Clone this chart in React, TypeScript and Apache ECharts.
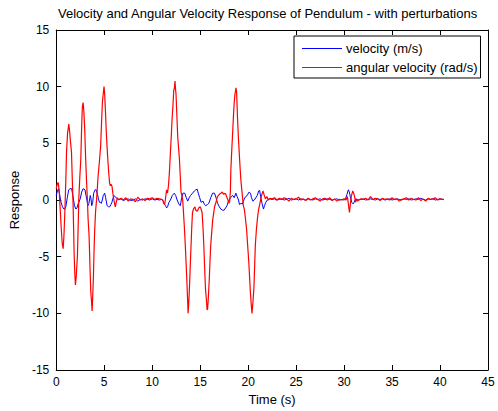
import React, { useEffect, useRef } from "react";
import * as echarts from "echarts";

const chartTitle = "Velocity and Angular Velocity Response of Pendulum - with perturbations";
const xTicks = [0, 5, 10, 15, 20, 25, 30, 35, 40, 45];
const yTicks = [-15, -10, -5, 0, 5, 10, 15];

// [time (s), velocity (m/s)]
const velocity: [number, number][] = [
  [0, 0.4], [0.12, 0.8], [0.24, 1.0], [0.35, 0.5], [0.5, -0.2], [0.65, -0.6], [0.8, -0.8], [0.9, -0.8], [1.0, -0.6],
  [1.15, 0.2], [1.3, 0.9], [1.45, 1.0], [1.6, 1.0], [1.75, 0.3], [1.9, -0.5], [2.05, -0.8], [2.16, -0.7], [2.3, -0.3],
  [2.5, 0.1], [2.65, 0.7], [2.8, 1.0], [3.0, 0.9], [3.1, 0.4], [3.2, 0.0], [3.3, -0.5], [3.4, -0.3], [3.55, 0.4],
  [3.62, 0.1], [3.7, -0.5], [3.8, -0.2], [3.9, 0.6], [4.05, 0.9], [4.16, 0.9], [4.3, 0.5], [4.4, 0.1], [4.5, -0.2],
  [4.6, -0.2], [4.7, -0.3], [4.8, 0.0], [4.9, 0.4], [5.05, 0.6], [5.15, 0.2], [5.3, -0.5], [5.45, -0.6], [5.57, -0.6],
  [5.7, -0.4], [5.8, -0.2], [5.9, 0.1], [6.0, 0.4], [6.12, 0.3], [6.25, 0.2], [6.4, 0.1],
  [6.5, 0.0], [6.75, 0.1], [7.0, -0.05], [7.25, 0.05], [7.5, 0.1], [7.75, -0.05], [8.0, 0.0], [8.25, 0.1], [8.5, -0.1],
  [8.75, 0.05], [9.0, 0.0], [9.25, 0.1], [9.5, 0.05], [9.75, 0.0], [10.0, 0.1], [10.25, 0.0], [10.5, 0.05], [10.75, 0.0],
  [11.0, 0.05], [11.15, -0.1], [11.3, -0.4], [11.4, -0.5], [11.5, -0.7], [11.6, -0.6], [11.75, -0.2], [11.9, 0.0],
  [12.1, 0.4], [12.3, 0.6], [12.45, 0.4], [12.6, 0.0], [12.8, -0.4], [12.94, -0.5], [13.05, 0.1], [13.2, 0.6], [13.4, 0.6],
  [13.55, 0.2], [13.7, -0.1], [13.85, 0.2], [14.0, 0.4], [14.2, 0.6], [14.4, 0.8], [14.55, 0.9], [14.7, 0.95], [14.8, 0.6],
  [14.95, 0.2], [15.1, -0.2], [15.3, -0.1], [15.45, -0.4], [15.6, -0.5], [15.75, -0.4], [15.9, -0.3], [16.1, 0.2],
  [16.3, 0.6], [16.5, 0.6], [16.65, 0.2], [16.82, -0.3], [17.0, -0.6], [17.15, -0.8], [17.34, -0.9], [17.5, -0.9],
  [17.65, -0.7], [17.8, -0.5], [17.95, -0.1], [18.1, 0.1], [18.25, 0.3], [18.4, 0.4], [18.55, 0.2], [18.72, 0.6],
  [18.85, 0.3], [19.0, 0.0], [19.1, -0.4], [19.25, -0.3], [19.4, -0.35], [19.6, 0.1], [19.75, 0.3], [19.9, 0.4],
  [20.1, 0.7], [20.25, 0.6], [20.35, 0.2], [20.5, -0.1], [20.65, 0.0], [20.8, 0.2], [20.95, 0.4], [21.1, 0.8],
  [21.2, 0.85], [21.3, 0.3], [21.45, -0.3], [21.6, -0.8], [21.7, -0.5], [21.85, -0.2], [22.0, 0.0], [22.1, 0.05],
  [22.25, 0.1], [22.5, 0.05], [22.75, 0.1], [23.0, 0.0], [23.25, 0.05], [23.5, 0.1], [23.75, 0.0], [24.0, 0.05],
  [24.25, 0.15], [24.5, 0.0], [24.75, 0.05], [25.0, 0.1], [25.25, 0.0], [25.5, 0.1], [25.75, 0.05], [26.0, 0.0],
  [26.25, 0.1], [26.5, 0.05], [26.75, 0.0], [27.0, 0.1], [27.25, 0.05], [27.5, 0.1], [27.75, 0.0], [28.0, 0.05],
  [28.25, 0.1], [28.5, 0.05], [28.75, 0.0], [29.0, 0.05], [29.25, 0.1], [29.5, 0.0], [29.75, 0.05], [30.0, 0.0],
  [30.15, 0.1], [30.3, 0.5], [30.45, 0.9], [30.55, 0.7], [30.65, 0.3], [30.8, -0.2], [30.95, -0.35], [31.05, -0.2],
  [31.2, 0.1], [31.35, 0.05], [31.5, 0.0], [31.75, 0.05], [32.0, 0.1], [32.25, 0.0], [32.5, 0.05], [32.75, 0.1],
  [33.0, 0.05], [33.25, 0.0], [33.5, 0.1], [33.75, 0.05], [34.0, 0.1], [34.25, 0.0], [34.5, 0.05], [34.75, 0.1],
  [35.0, 0.0], [35.25, 0.05], [35.5, 0.1], [35.75, 0.05], [36.0, 0.0], [36.25, 0.1], [36.5, 0.05], [36.75, 0.1],
  [37.0, 0.0], [37.25, 0.05], [37.5, 0.1], [37.75, 0.05], [38.0, 0.15], [38.25, 0.05], [38.5, 0.0], [38.75, 0.1],
  [39.0, 0.05], [39.25, 0.1], [39.5, 0.0], [39.75, 0.05], [40.0, 0.1], [40.25, 0.05], [40.4, 0.05],
];

// [time (s), angular velocity (rad/s)]
const angularVelocity: [number, number][] = [
  [0, 1.0], [0.1, 1.4], [0.2, 1.55], [0.3, 0.9], [0.4, -0.6], [0.52, -2.5], [0.62, -3.8], [0.72, -4.3], [0.8, -3.2],
  [0.9, -1.0], [1.0, 1.8], [1.07, 4.2], [1.18, 5.9], [1.31, 6.7], [1.4, 6.0], [1.5, 5.0], [1.59, 4.2], [1.68, 1.6],
  [1.76, -0.5], [1.87, -4.9], [1.94, -6.6], [2.0, -7.5], [2.08, -6.8], [2.21, -4.9], [2.3, -1.8], [2.35, 0.1],
  [2.45, 1.9], [2.56, 3.6], [2.65, 6.5], [2.72, 8.2], [2.8, 8.6], [2.88, 7.8], [2.97, 6.2], [3.06, 3.8], [3.15, 1.8],
  [3.24, 0.2], [3.32, -1.7], [3.42, -3.1], [3.52, -6.0], [3.6, -8.1], [3.68, -9.0], [3.74, -9.8], [3.8, -8.5],
  [3.87, -6.9], [3.94, -4.5], [4.0, -2.8], [4.1, -1.0], [4.2, 0.0], [4.28, 1.0], [4.36, 2.1], [4.5, 3.4], [4.63, 4.8],
  [4.72, 6.8], [4.81, 8.6], [4.9, 9.4], [4.98, 10.0], [5.05, 9.3], [5.12, 8.0], [5.2, 6.3], [5.29, 4.8], [5.38, 3.5],
  [5.47, 2.4], [5.56, 1.5], [5.64, 1.25], [5.72, 1.4], [5.81, 1.2], [5.9, 0.6], [6.02, -0.06], [6.1, -0.4],
  [6.16, -0.6], [6.25, -0.2], [6.37, 0.2], [6.5, 0.05], [6.75, 0.15], [7.0, 0.0], [7.25, 0.2], [7.5, -0.1],
  [7.75, 0.1], [8.0, 0.05], [8.25, -0.15], [8.5, 0.25], [8.75, 0.0], [9.0, 0.1], [9.25, -0.05], [9.5, 0.15],
  [9.75, 0.1], [10.0, 0.2], [10.25, 0.05], [10.5, 0.15], [10.75, 0.1], [11.0, 0.05], [11.1, 0.0], [11.2, -0.3],
  [11.3, -0.4], [11.4, 0.2], [11.5, 0.9], [11.6, 0.6], [11.7, 1.3], [11.8, 2.5], [11.9, 4.2], [12.0, 5.8],
  [12.07, 7.1], [12.16, 8.3], [12.25, 9.7], [12.32, 9.9], [12.38, 10.5], [12.43, 9.8], [12.48, 9.4], [12.57, 7.5],
  [12.66, 5.6], [12.75, 4.6], [12.84, 3.6], [12.92, 2.2], [13.0, 0.7], [13.1, 0.4], [13.18, 0.0], [13.27, -1.2],
  [13.36, -2.5], [13.45, -4.0], [13.53, -5.5], [13.63, -7.5], [13.7, -9.0], [13.74, -10.0], [13.8, -9.3],
  [13.88, -7.8], [13.96, -6.0], [14.05, -4.0], [14.12, -2.5], [14.2, -1.1], [14.3, -0.8], [14.45, -0.6],
  [14.55, -0.9], [14.7, -1.0], [14.85, -0.7], [15.0, -0.6], [15.1, -0.8], [15.2, -1.1], [15.3, -2.5], [15.38, -4.0],
  [15.46, -5.8], [15.55, -7.8], [15.65, -8.8], [15.72, -9.7], [15.78, -9.6], [15.86, -8.5], [15.95, -7.0],
  [16.02, -5.5], [16.1, -4.0], [16.2, -2.9], [16.3, -1.8], [16.4, -1.2], [16.5, -0.6], [16.65, -0.2], [16.8, 0.3],
  [17.0, 0.5], [17.16, 0.6], [17.3, 0.7], [17.45, 0.5], [17.6, 0.6], [17.7, 0.45], [17.8, 0.2], [17.9, 0.0],
  [18.0, -0.3], [18.08, -0.1], [18.15, 0.8], [18.2, 2.7], [18.3, 4.5], [18.4, 6.2], [18.48, 7.6], [18.55, 8.6],
  [18.62, 9.3], [18.68, 9.6], [18.73, 9.9], [18.8, 9.5], [18.9, 7.1], [18.98, 5.6], [19.07, 4.2], [19.15, 3.0],
  [19.24, 1.8], [19.35, 0.8], [19.5, -0.5], [19.6, -0.8], [19.7, -1.5], [19.83, -2.5], [19.95, -4.0], [20.07, -5.5],
  [20.15, -6.8], [20.24, -8.2], [20.32, -9.2], [20.4, -10.0], [20.5, -9.0], [20.6, -7.8], [20.68, -5.8],
  [20.75, -4.0], [20.87, -2.5], [21.0, -1.4], [21.1, -0.8], [21.25, -0.2], [21.4, 0.4], [21.55, 0.8], [21.65, 0.5],
  [21.8, 0.1], [21.95, 0.3], [22.1, 0.0], [22.25, 0.15], [22.5, 0.1], [22.75, 0.2], [23.0, 0.0], [23.25, 0.15],
  [23.5, 0.05], [23.75, 0.2], [24.0, 0.1], [24.25, -0.1], [24.5, 0.15], [24.75, 0.05], [25.0, 0.1], [25.25, 0.25],
  [25.5, 0.0], [25.75, 0.1], [26.0, -0.05], [26.25, 0.15], [26.5, 0.0], [26.75, 0.1], [27.0, 0.2], [27.25, 0.05],
  [27.5, -0.1], [27.75, 0.1], [28.0, 0.15], [28.25, 0.0], [28.5, 0.2], [28.75, -0.05], [29.0, 0.1], [29.25, -0.1],
  [29.5, 0.05], [29.75, 0.0], [30.0, 0.1], [30.2, 0.0], [30.35, 0.3], [30.45, -0.4], [30.56, -1.1], [30.65, -0.4],
  [30.75, 0.3], [30.9, 0.8], [31.0, 0.6], [31.1, 0.3], [31.2, -0.2], [31.3, 0.1], [31.4, -0.1], [31.5, 0.0],
  [31.75, 0.1], [32.0, 0.05], [32.25, 0.15], [32.5, 0.0], [32.75, 0.3], [33.0, 0.05], [33.25, 0.15], [33.5, 0.1],
  [33.75, -0.05], [34.0, 0.15], [34.25, 0.05], [34.5, 0.1], [34.75, 0.0], [35.0, 0.2], [35.25, 0.05], [35.5, 0.1],
  [35.75, -0.1], [36.0, 0.05], [36.25, 0.1], [36.5, 0.2], [36.75, 0.0], [37.0, 0.15], [37.25, 0.05], [37.5, 0.0],
  [37.75, 0.2], [38.0, -0.05], [38.25, 0.1], [38.5, -0.1], [38.75, 0.15], [39.0, 0.05], [39.25, 0.1], [39.5, 0.2],
  [39.75, 0.0], [40.0, 0.1], [40.25, 0.05], [40.4, 0.05],
];

const FONT = "'Liberation Sans', Arial, sans-serif";

export default function App() {
  const ref = useRef<HTMLDivElement>(null);
  useEffect(() => {
    if (!ref.current) return;
    const chart = echarts.init(ref.current, undefined, { renderer: "svg" });
    const xMin = xTicks[0];
    const xMax = xTicks[xTicks.length - 1];
    const yMin = yTicks[0];
    const yMax = yTicks[yTicks.length - 1];
    const tickCommon = { show: true, inside: true, length: 5, lineStyle: { color: "#000", width: 1 } };
    chart.setOption({
      animation: false,
      backgroundColor: "#fff",
      textStyle: { fontFamily: FONT },
      title: {
        text: chartTitle,
        left: 58,
        top: 7,
        padding: 0,
        textStyle: { fontFamily: FONT, fontSize: 13, fontWeight: "normal", color: "#000" },
      },
      legend: {
        orient: "vertical",
        left: 294,
        top: 36,
        padding: [6, 3, 4, 8],
        itemGap: 6,
        itemWidth: 40,
        itemHeight: 1,
        icon: "rect",
        backgroundColor: "#fff",
        borderColor: "#000",
        borderWidth: 1,
        borderRadius: 0,
        textStyle: { fontFamily: FONT, fontSize: 13, color: "#000", padding: [0, 0, 0, -1] },
        data: ["velocity (m/s)", "angular velocity (rad/s)"],
      },
      grid: { left: 55, right: 10, top: 30, bottom: 39, containLabel: false },
      xAxis: [
        {
          type: "value",
          min: xMin,
          max: xMax,
          interval: 5,
          name: "Time (s)",
          nameLocation: "middle",
          nameGap: 23,
          nameTextStyle: { fontFamily: FONT, fontSize: 13, color: "#000" },
          axisLine: { show: true, onZero: false, lineStyle: { color: "#000", width: 1 } },
          axisTick: tickCommon,
          axisLabel: { fontFamily: FONT, fontSize: 12, color: "#000", margin: 6 },
          splitLine: { show: false },
        },
        {
          type: "value",
          position: "top",
          min: xMin,
          max: xMax,
          interval: 5,
          axisLine: { show: true, onZero: false, lineStyle: { color: "#000", width: 1 } },
          axisTick: tickCommon,
          axisLabel: { show: false },
          splitLine: { show: false },
        },
      ],
      yAxis: [
        {
          type: "value",
          min: yMin,
          max: yMax,
          interval: 5,
          name: "Response",
          nameLocation: "middle",
          nameGap: 31,
          nameTextStyle: { fontFamily: FONT, fontSize: 13, color: "#000" },
          axisLine: { show: true, onZero: false, lineStyle: { color: "#000", width: 1 } },
          axisTick: tickCommon,
          axisLabel: { fontFamily: FONT, fontSize: 12, color: "#000", margin: 7 },
          splitLine: { show: false },
        },
        {
          type: "value",
          position: "right",
          min: yMin,
          max: yMax,
          interval: 5,
          axisLine: { show: true, onZero: false, lineStyle: { color: "#000", width: 1 } },
          axisTick: tickCommon,
          axisLabel: { show: false },
          splitLine: { show: false },
        },
      ],
      series: [
        {
          name: "velocity (m/s)",
          type: "line",
          xAxisIndex: 0,
          yAxisIndex: 0,
          data: velocity,
          showSymbol: false,
          symbol: "none",
          color: "#0000ff",
          lineStyle: { color: "#0000ff", width: 1 },
        },
        {
          name: "angular velocity (rad/s)",
          type: "line",
          xAxisIndex: 0,
          yAxisIndex: 0,
          data: angularVelocity,
          showSymbol: false,
          symbol: "none",
          color: "#ff0000",
          lineStyle: { color: "#ff0000", width: 1.2 },
        },
      ],
    });
    return () => chart.dispose();
  }, []);
  return (
    <div
      ref={ref}
      style={{ position: "fixed", left: 0, top: 0, width: 498, height: 411, background: "#fff" }}
    />
  );
}
